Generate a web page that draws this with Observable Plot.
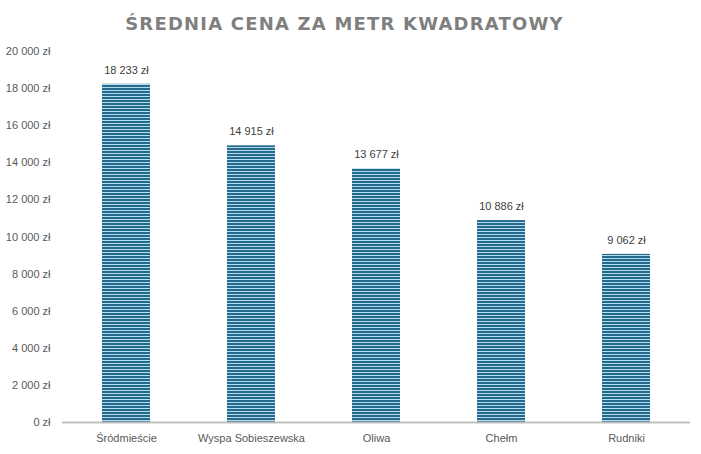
<!DOCTYPE html>
<html>
<head>
<meta charset="utf-8">
<script src="https://cdn.jsdelivr.net/npm/d3@7"></script>
<script src="https://cdn.jsdelivr.net/npm/@observablehq/plot@0.6"></script>
<style>
  html, body { margin: 0; padding: 0; background: #fff; }
  #wrap { width: 701px; height: 454px; overflow: hidden; }
  #title { height: 40px; line-height: 48px; text-align: center; font-family: "DejaVu Sans", sans-serif; font-weight: bold; font-size: 18px; letter-spacing: 1.2px; color: #7f7f7f; padding-right: 12px; box-sizing: border-box; }
</style>
</head>
<body>
<div id="wrap">
  <div id="title">ŚREDNIA CENA ZA METR KWADRATOWY</div>
  <div id="chart"></div>
</div>
<script>
const districts = ["Śródmieście", "Wyspa Sobieszewska", "Oliwa", "Chełm", "Rudniki"];
const prices = [18233, 14915, 13677, 10886, 9062];
const yTicks = [0, 2000, 4000, 6000, 8000, 10000, 12000, 14000, 16000, 18000, 20000];

const data = districts.map((d, i) => ({district: d, price: prices[i]}));
const fmt = v => d3.format(",")(v).replace(/,/g, " ") + " zł";
const font = "'Liberation Sans Narrow', 'Liberation Sans', sans-serif";

const chart = Plot.plot({
  width: 701,
  height: 414,
  marginTop: 11,
  marginBottom: 32,
  marginLeft: 62,
  marginRight: 11,
  style: {fontFamily: font, fontSize: "11px", color: "#595959", background: "#fff"},
  x: {domain: districts, paddingInner: 0.62, paddingOuter: 0.31, label: null},
  y: {domain: [0, 20000], label: null},
  marks: [
    Plot.barY(data, {x: "district", y: "price", fill: "#2a6f91"}),
    Plot.ruleY([0], {stroke: "#bfbfbf", strokeWidth: 2}),
    Plot.axisY({ticks: yTicks, tickFormat: fmt, tickSize: 0, tickPadding: 12, fill: "#595959", fontSize: 11}),
    Plot.axisX({tickSize: 0, tickPadding: 12, fill: "#595959", fontSize: 11}),
    Plot.text(data, {x: "district", y: "price", text: d => fmt(d.price), dy: -14, fill: "#404040", fontSize: 11})
  ]
});

// stripe pattern for bars
const ns = "http://www.w3.org/2000/svg";
const defs = document.createElementNS(ns, "defs");
defs.innerHTML = `<pattern id="stripes" patternUnits="userSpaceOnUse" width="6" height="3">
  <rect x="0" y="0" width="6" height="3" fill="#236a8c"></rect>
  <rect x="0" y="2" width="6" height="1" fill="#b3dbec"></rect>
</pattern>`;
chart.insertBefore(defs, chart.firstChild);
d3.select(chart).selectAll("g[aria-label='bar'] rect").attr("fill", "url(#stripes)");

document.getElementById("chart").appendChild(chart);
</script>
</body>
</html>
